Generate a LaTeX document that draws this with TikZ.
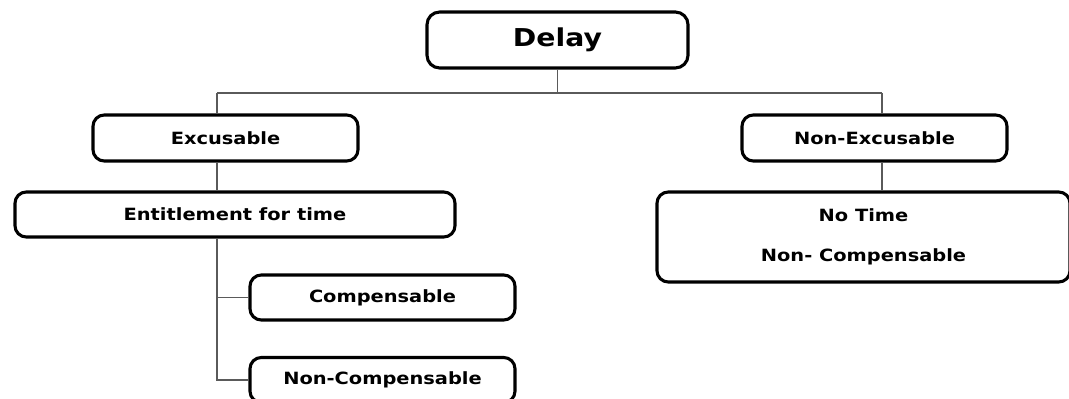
\documentclass[tikz,border=0pt]{standalone}
\usepackage{fontspec}
\newfontfamily\boxfont[FakeStretch=1.15]{DejaVu Sans Bold}
\usepackage{xcolor}
\definecolor{linegray}{RGB}{90,90,90}

\tikzset{
  delaybox/.style={draw, line width=2.2pt, rounded corners=9pt, fill=white,
    font=\boxfont\fontsize{17.5}{21}\selectfont, inner sep=0pt},
  catbox/.style={draw, line width=2.2pt, rounded corners=8pt, fill=white,
    font=\boxfont\fontsize{12}{14.4}\selectfont, inner sep=0pt},
  link/.style={draw=linegray, line width=0.8pt}
}

\begin{document}
\begin{tikzpicture}[x=0.025cm,y=-0.025cm]
\useasboundingbox (0,0) rectangle (1069,399);

% top box
\node[delaybox, minimum width=261*0.025cm, minimum height=56*0.025cm] (delay) at (557.5,40) {Delay};

% first level
\node[catbox, minimum width=265*0.025cm, minimum height=46*0.025cm] (exc) at (225.5,138) {Excusable};
\node[catbox, minimum width=265*0.025cm, minimum height=46*0.025cm] (nonexc) at (874.5,138) {Non-Excusable};

% second level
\node[catbox, minimum width=440*0.025cm, minimum height=45*0.025cm] (ent) at (235,214.5) {Entitlement for time};
\node[catbox, minimum width=413*0.025cm, minimum height=90*0.025cm, align=center] (notime) at (863.5,237)
  {No Time\\[14pt]Non- Compensable};

% third level
\node[catbox, minimum width=265*0.025cm, minimum height=45*0.025cm] (comp) at (382.5,297.5) {Compensable};
\node[catbox, minimum width=265*0.025cm, minimum height=45*0.025cm] (noncomp) at (382.5,380) {Non-Compensable};

% Connections
\coordinate (busL) at (217,93);
\coordinate (busR) at (882,93);
\draw[link] (delay.south) -- (delay.south |- busL);
\draw[link] (busL) -- (busR);
\draw[link] (busL) -- (busL |- exc.north);
\draw[link] (busR) -- (busR |- nonexc.north);
\draw[link] (busL |- exc.south) -- (busL |- ent.north);
\draw[link] (busR |- nonexc.south) -- (busR |- notime.north);
\draw[link] (busL |- ent.south) -- (busL |- noncomp.west) -- (noncomp.west);
\draw[link] (busL |- comp.west) -- (comp.west);
\end{tikzpicture}
\end{document}
